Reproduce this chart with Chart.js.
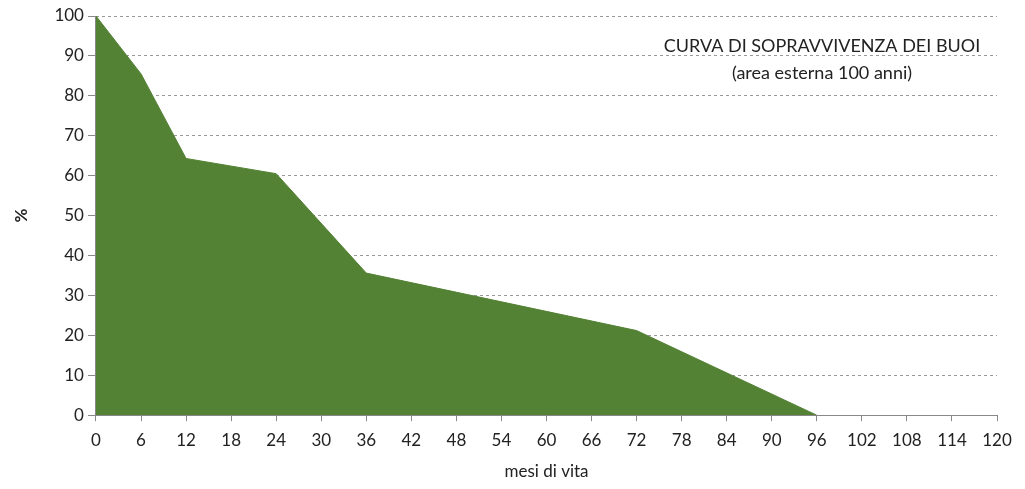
<!DOCTYPE html>
<html>
<head>
<meta charset="utf-8">
<script src="https://cdn.jsdelivr.net/npm/chart.js@4/dist/chart.umd.min.js"></script>
<style>
  html, body { margin: 0; padding: 0; background: #fff; }
  #wrap { width: 1025px; height: 489px; }
</style>
</head>
<body>
<div id="wrap"><canvas id="survival"></canvas></div>
<script>
// Dati della curva (mesi di vita / % sopravvissuti)
const months = [0, 6, 12, 24, 36, 72, 96];
const survival = [100, 85.5, 64.3, 60.5, 35.6, 21.2, 0];
const xTicks = [0, 6, 12, 18, 24, 30, 36, 42, 48, 54, 60, 66, 72, 78, 84, 90, 96, 102, 108, 114, 120];
const yTicks = [0, 10, 20, 30, 40, 50, 60, 70, 80, 90, 100];
const titleLines = ['CURVA DI SOPRAVVIVENZA DEI BUOI', '(area esterna 100 anni)'];

const FONT = 'Lato, "Open Sans", sans-serif';

// Testo dentro l'area del grafico
const titlePlugin = {
    id: 'titleText',
    afterDraw(chart) {
        const ctx = chart.ctx;
        const x = chart.scales.x.getPixelForValue(xTicks[xTicks.length - 1]) - 175;
        ctx.save();
        ctx.fillStyle = '#222';
        ctx.font = '18px ' + FONT;
        ctx.textAlign = 'center';
        ctx.textBaseline = 'middle';
        ctx.fillText(titleLines[0], x, 46);
        ctx.fillText(titleLines[1], x, 73);
        ctx.restore();
    }
};

const ctx = document.getElementById('survival').getContext('2d');
new Chart(ctx, {
    type: 'line',
    data: {
        datasets: [{
            data: months.map((m, i) => ({ x: m, y: survival[i] })),
            fill: 'origin',
            backgroundColor: '#548235',
            borderColor: '#548235',
            borderWidth: 1,
            pointRadius: 0,
            tension: 0
        }]
    },
    options: {
        responsive: true,
        maintainAspectRatio: false,
        animation: false,
        layout: { padding: { top: 16, right: 28, bottom: 3, left: 6 } },
        plugins: {
            legend: { display: false },
            tooltip: { enabled: false }
        },
        scales: {
            x: {
                type: 'linear',
                min: 0,
                max: 120,
                afterBuildTicks: axis => { axis.ticks = xTicks.map(v => ({ value: v })); },
                ticks: { color: '#222', font: { size: 17, family: FONT }, padding: 9, maxRotation: 0, autoSkip: false },
                grid: { drawOnChartArea: false, drawTicks: true, tickLength: 6, color: '#888' },
                border: { color: '#888', width: 1 },
                title: { display: true, text: 'mesi di vita', color: '#222', font: { size: 17, family: FONT }, padding: { top: 2 } }
            },
            y: {
                min: 0,
                max: 100,
                afterBuildTicks: axis => { axis.ticks = yTicks.map(v => ({ value: v })); },
                ticks: { color: '#222', font: { size: 17, family: FONT }, padding: 4 },
                grid: { color: '#999', tickLength: 8, tickBorderDash: [], tickColor: '#888' },
                border: { color: '#888', width: 1, dash: [3, 3] },
                title: { display: true, text: '%', color: '#222', font: { size: 17, weight: 'bold', family: FONT }, padding: { top: 5, bottom: 19 } }
            }
        }
    },
    plugins: [titlePlugin]
});
</script>
</body>
</html>
